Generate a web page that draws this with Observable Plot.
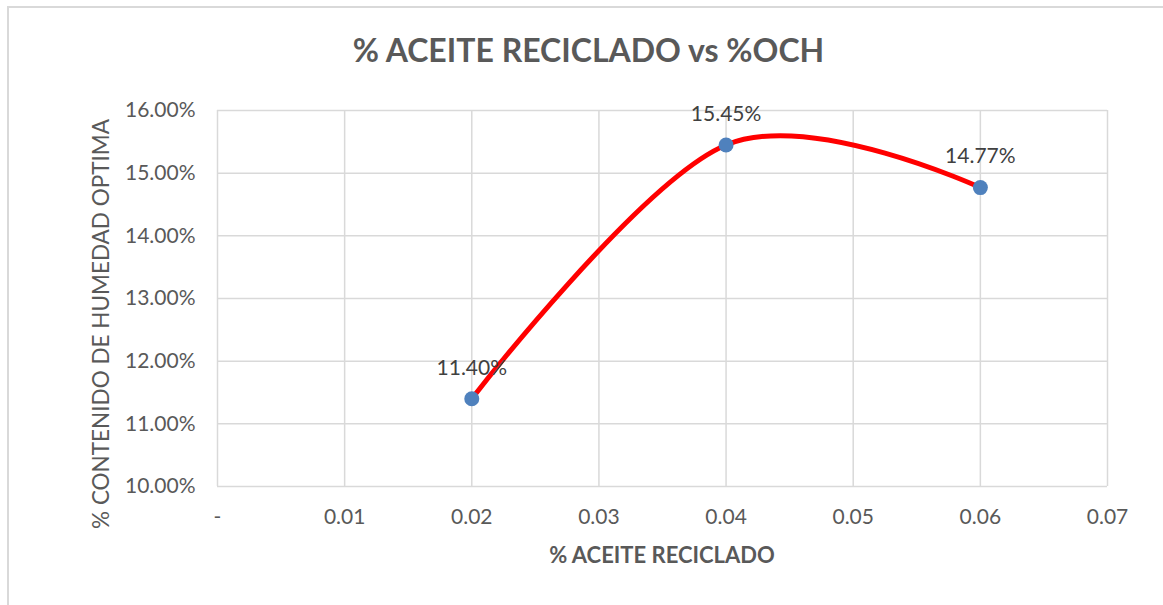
<!DOCTYPE html>
<html>
<head>
<meta charset="utf-8">
<script src="https://cdn.jsdelivr.net/npm/d3@7"></script>
<script src="https://cdn.jsdelivr.net/npm/@observablehq/plot@0.6"></script>
<style>
  html, body { margin: 0; padding: 0; background: #fff; }
  #wrap { position: relative; width: 1163px; height: 605px; overflow: hidden; font-family: Lato, "Open Sans", sans-serif; }
  #border { position: absolute; left: 7px; top: 6px; width: 1170px; height: 620px; border-top: 2px solid #d9d9d9; border-left: 2px solid #d9d9d9; box-sizing: border-box; }
  #title { position: absolute; left: 7px; width: 1163px; top: 30px; text-align: center; font-weight: bold; font-size: 32px; color: #595959; line-height: 40px; }
  #xtitle { position: absolute; left: 217px; width: 890px; top: 542px; text-align: center; font-weight: bold; font-size: 22px; color: #595959; line-height: 26px; }
  #ytitle { position: absolute; left: 101px; top: 324px; transform: translate(-50%, -50%) rotate(-90deg); white-space: nowrap; font-size: 22.5px; color: #595959; line-height: 26px; }
  #chart { position: absolute; left: 0; top: 0; }
</style>
</head>
<body>
<div id="wrap">
  <div id="border"></div>
  <div id="chart"></div>
  <div id="title">% ACEITE RECICLADO vs %OCH</div>
  <div id="xtitle">% ACEITE RECICLADO</div>
  <div id="ytitle">% CONTENIDO DE HUMEDAD OPTIMA</div>
</div>
<script>
const aceite = [0.02, 0.04, 0.06];
const och = [11.40, 15.45, 14.77];
const labels = ["11.40%", "15.45%", "14.77%"];
const xTicks = [0, 0.01, 0.02, 0.03, 0.04, 0.05, 0.06, 0.07];
const yTicks = [10, 11, 12, 13, 14, 15, 16];

const data = aceite.map((x, i) => ({x, y: och[i], label: labels[i]}));

const chart = Plot.plot({
  width: 1163,
  height: 605,
  marginLeft: 217,
  marginRight: 56,
  marginTop: 110,
  marginBottom: 119,
  style: {fontFamily: "Lato, 'Open Sans', sans-serif", fontSize: "21px", color: "#595959", background: "transparent"},
  x: {domain: [0, 0.07]},
  y: {domain: [10, 16]},
  marks: [
    Plot.gridX(xTicks, {stroke: "#d9d9d9", strokeOpacity: 1, strokeWidth: 1.5}),
    Plot.gridY(yTicks, {stroke: "#d9d9d9", strokeOpacity: 1, strokeWidth: 1.5}),
    Plot.axisX(xTicks, {tickSize: 0, tickPadding: 23, label: null, tickFormat: d => d === 0 ? "-" : d.toFixed(2), fill: "#595959"}),
    Plot.axisY(yTicks, {tickSize: 0, tickPadding: 22, label: null, tickFormat: d => d.toFixed(2) + "%", fill: "#595959"}),
    Plot.line(data, {x: "x", y: "y", curve: "cardinal", stroke: "#ff0000", strokeWidth: 5}),
    Plot.dot(data, {x: "x", y: "y", r: 7.5, fill: "#4f81bd", stroke: "none"}),
    Plot.text(data, {x: "x", y: "y", text: "label", dy: -31, fill: "#404040", fontSize: 21})
  ]
});
document.getElementById("chart").appendChild(chart);
</script>
</body>
</html>
